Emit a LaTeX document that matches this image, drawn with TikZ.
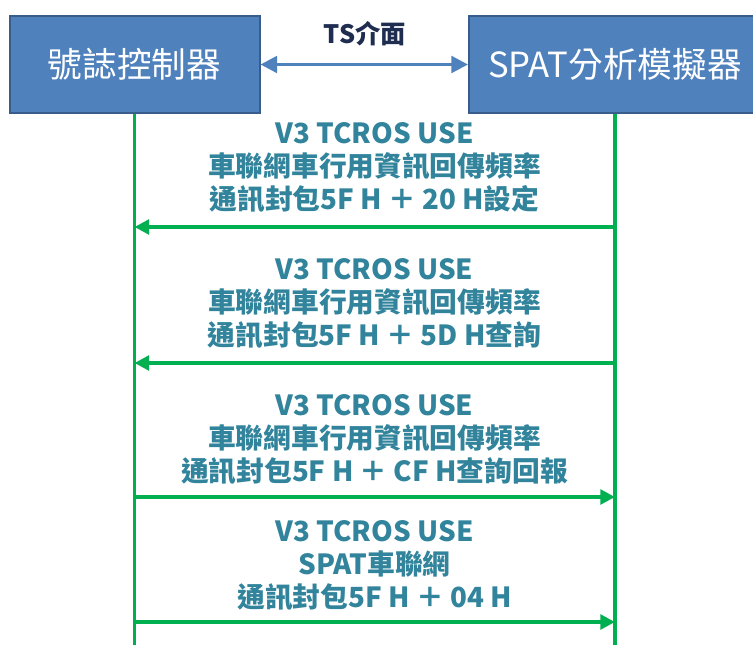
\documentclass[tikz,border=0pt]{standalone}
\usepackage{fontspec}
\newfontfamily\cjk{Noto Sans CJK TC}
\usetikzlibrary{arrows.meta}
\definecolor{boxblue}{HTML}{4F81BD}
\definecolor{boxedge}{HTML}{385D8A}
\definecolor{lifegreen}{HTML}{00B050}
\definecolor{msgteal}{HTML}{31849B}
\definecolor{tsnavy}{HTML}{1F2D50}

\begin{document}
\begin{tikzpicture}[x=0.75pt,y=-0.75pt,
    devbox/.style={draw=boxedge,fill=boxblue,line width=1.5pt,minimum height=72.75pt,
      inner sep=0pt,text=white,font=\cjk\fontsize{26}{30}\selectfont},
    life/.style={lifegreen,line width=2.3pt},
    msg/.style={lifegreen,line width=2.6pt,-{Triangle[length=11pt,width=11pt]}},
    msgtext/.style={text=msgteal,align=center,inner sep=0pt,
      font=\cjk\bfseries\fontsize{20.8}{24.75}\selectfont}]

  %%%% page and the two devices %%%%
  \useasboundingbox (0,0) rectangle (753,645);
  \node[devbox,minimum width=187.5pt] (ctrl) at (134.5,64.5) {號誌控制器};
  \node[devbox,minimum width=219pt]   (spat) at (615,64.5)   {SPAT分析模擬器};

  %% TS interface between the boxes
  \draw[boxblue,line width=2.5pt,{Triangle[length=12.5pt,width=12.5pt]}-{Triangle[length=12.5pt,width=12.5pt]}]
    (ctrl) -- (spat);
  \node[text=tsnavy,font=\cjk\bfseries\fontsize{19}{22}\selectfont] (ts) at (365,34) {TS介面};

  %% lifelines
  \coordinate (ctrlbot) at (134.5,650);
  \coordinate (spatbot) at (615,650);
  \draw[life] (ctrl.south) -- (ctrlbot);
  \draw[life] (spat.south) -- (spatbot);

  %% set coordinates for each message on both lifelines
  \foreach \m/\y in {1/227,2/363,3/497,4/622}{
    \coordinate (c\m) at (134.5,\y);
    \coordinate (s\m) at (615,\y);
  }

  %% messages
  \draw[msg] (s1) -- (c1);
  \node[msgtext] (msg1) at (374.5,168) {V3 TCROS USE\\車聯網車行用資訊回傳頻率\\通訊封包5F H ＋ 20 H設定};
  \draw[msg] (s2) -- (c2);
  \node[msgtext] (msg2) at (374.5,304) {V3 TCROS USE\\車聯網車行用資訊回傳頻率\\通訊封包5F H ＋ 5D H查詢};
  \draw[msg] (c3) -- (s3);
  \node[msgtext] (msg3) at (374.5,440) {V3 TCROS USE\\車聯網車行用資訊回傳頻率\\通訊封包5F H ＋ CF H查詢回報};
  \draw[msg] (c4) -- (s4);
  \node[msgtext] (msg4) at (374.5,566) {V3 TCROS USE\\SPAT車聯網\\通訊封包5F H ＋ 04 H};

\end{tikzpicture}
\end{document}
